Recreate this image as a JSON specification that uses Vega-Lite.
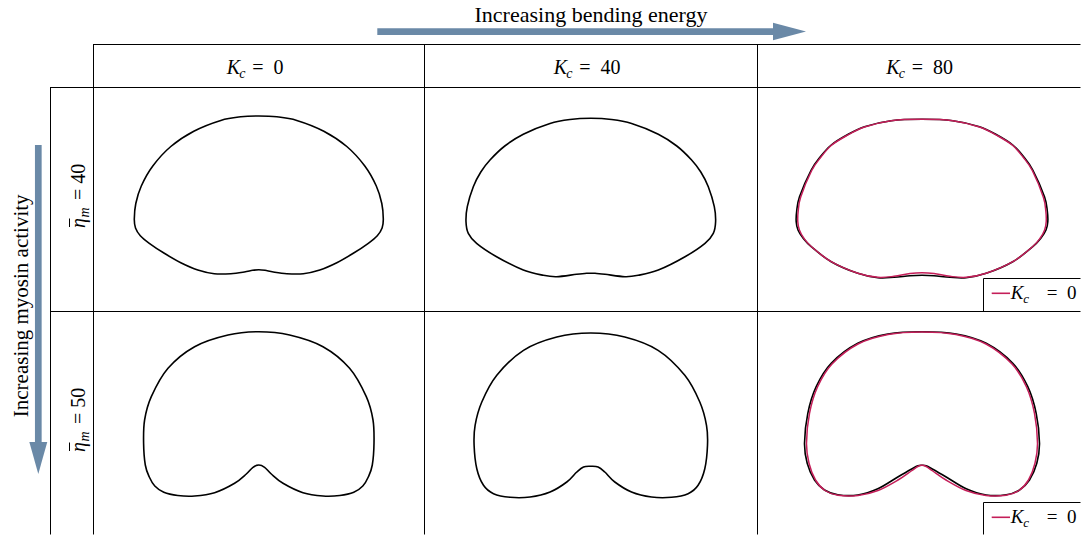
{
"$schema": "https://vega.github.io/schema/vega-lite/v6.json",
"padding": 0,
"background": "white",
"spacing": 0,
"bounds": "flush",
"columns": 4,
"config": {"view": {"stroke": null}, "font": "Liberation Serif", "concat": {"spacing": 0},
  "text": {"font": "Liberation Serif", "align": "left", "baseline": "alphabetic", "color": "black"},
  "rule": {"color": "black", "strokeWidth": 1}},
"data": {"values": [{}]},
"datasets": {"shapes": [
{"eta":40,"kc":0,"curve":0,"i":0,"x":0,"y":83},{"eta":40,"kc":0,"curve":0,"i":1,"x":18,"y":82.2},{"eta":40,"kc":0,"curve":0,"i":2,"x":38,"y":78.6},{"eta":40,"kc":0,"curve":0,"i":3,"x":65,"y":67.8},{"eta":40,"kc":0,"curve":0,"i":4,"x":88,"y":52.5},{"eta":40,"kc":0,"curve":0,"i":5,"x":106,"y":33},{"eta":40,"kc":0,"curve":0,"i":6,"x":117.5,"y":13},{"eta":40,"kc":0,"curve":0,"i":7,"x":123,"y":-4.5},{"eta":40,"kc":0,"curve":0,"i":8,"x":124.5,"y":-20},{"eta":40,"kc":0,"curve":0,"i":9,"x":123.3,"y":-29},{"eta":40,"kc":0,"curve":0,"i":10,"x":118.5,"y":-36.7},{"eta":40,"kc":0,"curve":0,"i":11,"x":109.5,"y":-44.3},{"eta":40,"kc":0,"curve":0,"i":12,"x":94.5,"y":-54.3},{"eta":40,"kc":0,"curve":0,"i":13,"x":78,"y":-63.7},{"eta":40,"kc":0,"curve":0,"i":14,"x":61,"y":-71},{"eta":40,"kc":0,"curve":0,"i":15,"x":44.5,"y":-74.7},{"eta":40,"kc":0,"curve":0,"i":16,"x":28,"y":-74.7},{"eta":40,"kc":0,"curve":0,"i":17,"x":14.5,"y":-73},{"eta":40,"kc":0,"curve":0,"i":18,"x":6.2,"y":-71.3},{"eta":40,"kc":0,"curve":0,"i":19,"x":0,"y":-70.7},{"eta":40,"kc":0,"curve":0,"i":20,"x":-6.2,"y":-71.3},{"eta":40,"kc":0,"curve":0,"i":21,"x":-14.5,"y":-73},{"eta":40,"kc":0,"curve":0,"i":22,"x":-28,"y":-74.7},{"eta":40,"kc":0,"curve":0,"i":23,"x":-44.5,"y":-74.7},{"eta":40,"kc":0,"curve":0,"i":24,"x":-61,"y":-71},{"eta":40,"kc":0,"curve":0,"i":25,"x":-78,"y":-63.7},{"eta":40,"kc":0,"curve":0,"i":26,"x":-94.5,"y":-54.3},{"eta":40,"kc":0,"curve":0,"i":27,"x":-109.5,"y":-44.3},{"eta":40,"kc":0,"curve":0,"i":28,"x":-118.5,"y":-36.7},{"eta":40,"kc":0,"curve":0,"i":29,"x":-123.3,"y":-29},{"eta":40,"kc":0,"curve":0,"i":30,"x":-124.5,"y":-20},{"eta":40,"kc":0,"curve":0,"i":31,"x":-123,"y":-4.5},{"eta":40,"kc":0,"curve":0,"i":32,"x":-117.5,"y":13},{"eta":40,"kc":0,"curve":0,"i":33,"x":-106,"y":33},{"eta":40,"kc":0,"curve":0,"i":34,"x":-88,"y":52.5},{"eta":40,"kc":0,"curve":0,"i":35,"x":-65,"y":67.8},{"eta":40,"kc":0,"curve":0,"i":36,"x":-38,"y":78.6},{"eta":40,"kc":0,"curve":0,"i":37,"x":-18,"y":82.2},

{"eta":40,"kc":40,"curve":40,"i":0,"x":0,"y":80.7},{"eta":40,"kc":40,"curve":40,"i":1,"x":20.8,"y":79.5},{"eta":40,"kc":40,"curve":40,"i":2,"x":40.8,"y":75.5},{"eta":40,"kc":40,"curve":40,"i":3,"x":67.5,"y":64.8},{"eta":40,"kc":40,"curve":40,"i":4,"x":86,"y":53},{"eta":40,"kc":40,"curve":40,"i":5,"x":100.8,"y":39},{"eta":40,"kc":40,"curve":40,"i":6,"x":110,"y":27},{"eta":40,"kc":40,"curve":40,"i":7,"x":117.5,"y":12.3},{"eta":40,"kc":40,"curve":40,"i":8,"x":123.5,"y":-7.7},{"eta":40,"kc":40,"curve":40,"i":9,"x":124.8,"y":-22.7},{"eta":40,"kc":40,"curve":40,"i":10,"x":122.5,"y":-34.3},{"eta":40,"kc":40,"curve":40,"i":11,"x":114.2,"y":-44.3},{"eta":40,"kc":40,"curve":40,"i":12,"x":94.2,"y":-57.7},{"eta":40,"kc":40,"curve":40,"i":13,"x":67.5,"y":-71},{"eta":40,"kc":40,"curve":40,"i":14,"x":47.5,"y":-76.3},{"eta":40,"kc":40,"curve":40,"i":15,"x":34.2,"y":-77.7},{"eta":40,"kc":40,"curve":40,"i":16,"x":14.2,"y":-75.3},{"eta":40,"kc":40,"curve":40,"i":17,"x":4.2,"y":-74.3},{"eta":40,"kc":40,"curve":40,"i":18,"x":0,"y":-74.3},{"eta":40,"kc":40,"curve":40,"i":19,"x":-4.2,"y":-74.3},{"eta":40,"kc":40,"curve":40,"i":20,"x":-14.2,"y":-75.3},{"eta":40,"kc":40,"curve":40,"i":21,"x":-34.2,"y":-77.7},{"eta":40,"kc":40,"curve":40,"i":22,"x":-47.5,"y":-76.3},{"eta":40,"kc":40,"curve":40,"i":23,"x":-67.5,"y":-71},{"eta":40,"kc":40,"curve":40,"i":24,"x":-94.2,"y":-57.7},{"eta":40,"kc":40,"curve":40,"i":25,"x":-114.2,"y":-44.3},{"eta":40,"kc":40,"curve":40,"i":26,"x":-122.5,"y":-34.3},{"eta":40,"kc":40,"curve":40,"i":27,"x":-124.8,"y":-22.7},{"eta":40,"kc":40,"curve":40,"i":28,"x":-123.5,"y":-7.7},{"eta":40,"kc":40,"curve":40,"i":29,"x":-117.5,"y":12.3},{"eta":40,"kc":40,"curve":40,"i":30,"x":-110,"y":27},{"eta":40,"kc":40,"curve":40,"i":31,"x":-100.8,"y":39},{"eta":40,"kc":40,"curve":40,"i":32,"x":-86,"y":53},{"eta":40,"kc":40,"curve":40,"i":33,"x":-67.5,"y":64.8},{"eta":40,"kc":40,"curve":40,"i":34,"x":-40.8,"y":75.5},{"eta":40,"kc":40,"curve":40,"i":35,"x":-20.8,"y":79.5},

{"eta":40,"kc":80,"curve":80,"i":0,"x":0,"y":79.7},{"eta":40,"kc":80,"curve":80,"i":1,"x":30.8,"y":78.3},{"eta":40,"kc":80,"curve":80,"i":2,"x":57.5,"y":72.3},{"eta":40,"kc":80,"curve":80,"i":3,"x":76,"y":63.5},{"eta":40,"kc":80,"curve":80,"i":4,"x":90.8,"y":54},{"eta":40,"kc":80,"curve":80,"i":5,"x":101.5,"y":42.5},{"eta":40,"kc":80,"curve":80,"i":6,"x":110.8,"y":29},{"eta":40,"kc":80,"curve":80,"i":7,"x":122.5,"y":2.3},{"eta":40,"kc":80,"curve":80,"i":8,"x":125.3,"y":-12},{"eta":40,"kc":80,"curve":80,"i":9,"x":125.8,"y":-22.7},{"eta":40,"kc":80,"curve":80,"i":10,"x":124,"y":-31},{"eta":40,"kc":80,"curve":80,"i":11,"x":119,"y":-39},{"eta":40,"kc":80,"curve":80,"i":12,"x":110.8,"y":-47.7},{"eta":40,"kc":80,"curve":80,"i":13,"x":90.8,"y":-62.7},{"eta":40,"kc":80,"curve":80,"i":14,"x":64.2,"y":-74.3},{"eta":40,"kc":80,"curve":80,"i":15,"x":44.2,"y":-78.7},{"eta":40,"kc":80,"curve":80,"i":16,"x":28,"y":-78.3},{"eta":40,"kc":80,"curve":80,"i":17,"x":12,"y":-76.7},{"eta":40,"kc":80,"curve":80,"i":18,"x":0,"y":-76.3},{"eta":40,"kc":80,"curve":80,"i":19,"x":-12,"y":-76.7},{"eta":40,"kc":80,"curve":80,"i":20,"x":-28,"y":-78.3},{"eta":40,"kc":80,"curve":80,"i":21,"x":-44.2,"y":-78.7},{"eta":40,"kc":80,"curve":80,"i":22,"x":-64.2,"y":-74.3},{"eta":40,"kc":80,"curve":80,"i":23,"x":-90.8,"y":-62.7},{"eta":40,"kc":80,"curve":80,"i":24,"x":-110.8,"y":-47.7},{"eta":40,"kc":80,"curve":80,"i":25,"x":-119,"y":-39},{"eta":40,"kc":80,"curve":80,"i":26,"x":-124,"y":-31},{"eta":40,"kc":80,"curve":80,"i":27,"x":-125.8,"y":-22.7},{"eta":40,"kc":80,"curve":80,"i":28,"x":-125.3,"y":-12},{"eta":40,"kc":80,"curve":80,"i":29,"x":-122.5,"y":2.3},{"eta":40,"kc":80,"curve":80,"i":30,"x":-110.8,"y":29},{"eta":40,"kc":80,"curve":80,"i":31,"x":-101.5,"y":42.5},{"eta":40,"kc":80,"curve":80,"i":32,"x":-90.8,"y":54},{"eta":40,"kc":80,"curve":80,"i":33,"x":-76,"y":63.5},{"eta":40,"kc":80,"curve":80,"i":34,"x":-57.5,"y":72.3},{"eta":40,"kc":80,"curve":80,"i":35,"x":-30.8,"y":78.3},

{"eta":40,"kc":80,"curve":0,"i":0,"x":0,"y":79.7},{"eta":40,"kc":80,"curve":0,"i":1,"x":30.8,"y":78.3},{"eta":40,"kc":80,"curve":0,"i":2,"x":57.5,"y":72},{"eta":40,"kc":80,"curve":0,"i":3,"x":76,"y":63},{"eta":40,"kc":80,"curve":0,"i":4,"x":90.8,"y":53.5},{"eta":40,"kc":80,"curve":0,"i":5,"x":101,"y":42},{"eta":40,"kc":80,"curve":0,"i":6,"x":110.3,"y":28.5},{"eta":40,"kc":80,"curve":0,"i":7,"x":121.3,"y":2},{"eta":40,"kc":80,"curve":0,"i":8,"x":123.8,"y":-12},{"eta":40,"kc":80,"curve":0,"i":9,"x":124.2,"y":-22.7},{"eta":40,"kc":80,"curve":0,"i":10,"x":122.6,"y":-31},{"eta":40,"kc":80,"curve":0,"i":11,"x":118.3,"y":-39},{"eta":40,"kc":80,"curve":0,"i":12,"x":110.5,"y":-47.7},{"eta":40,"kc":80,"curve":0,"i":13,"x":90.8,"y":-62.7},{"eta":40,"kc":80,"curve":0,"i":14,"x":64.2,"y":-74.3},{"eta":40,"kc":80,"curve":0,"i":15,"x":44.2,"y":-78.3},{"eta":40,"kc":80,"curve":0,"i":16,"x":28,"y":-77.3},{"eta":40,"kc":80,"curve":0,"i":17,"x":12,"y":-74.5},{"eta":40,"kc":80,"curve":0,"i":18,"x":0,"y":-73.7},{"eta":40,"kc":80,"curve":0,"i":19,"x":-12,"y":-74.5},{"eta":40,"kc":80,"curve":0,"i":20,"x":-28,"y":-77.3},{"eta":40,"kc":80,"curve":0,"i":21,"x":-44.2,"y":-78.3},{"eta":40,"kc":80,"curve":0,"i":22,"x":-64.2,"y":-74.3},{"eta":40,"kc":80,"curve":0,"i":23,"x":-90.8,"y":-62.7},{"eta":40,"kc":80,"curve":0,"i":24,"x":-110.5,"y":-47.7},{"eta":40,"kc":80,"curve":0,"i":25,"x":-118.3,"y":-39},{"eta":40,"kc":80,"curve":0,"i":26,"x":-122.6,"y":-31},{"eta":40,"kc":80,"curve":0,"i":27,"x":-124.2,"y":-22.7},{"eta":40,"kc":80,"curve":0,"i":28,"x":-123.8,"y":-12},{"eta":40,"kc":80,"curve":0,"i":29,"x":-121.3,"y":2},{"eta":40,"kc":80,"curve":0,"i":30,"x":-110.3,"y":28.5},{"eta":40,"kc":80,"curve":0,"i":31,"x":-101,"y":42},{"eta":40,"kc":80,"curve":0,"i":32,"x":-90.8,"y":53.5},{"eta":40,"kc":80,"curve":0,"i":33,"x":-76,"y":63},{"eta":40,"kc":80,"curve":0,"i":34,"x":-57.5,"y":72},{"eta":40,"kc":80,"curve":0,"i":35,"x":-30.8,"y":78.3},

{"eta":50,"kc":0,"curve":0,"i":0,"x":0,"y":91.3},{"eta":50,"kc":0,"curve":0,"i":1,"x":30.8,"y":88},{"eta":50,"kc":0,"curve":0,"i":2,"x":64.2,"y":76.3},{"eta":50,"kc":0,"curve":0,"i":3,"x":90.8,"y":54.7},{"eta":50,"kc":0,"curve":0,"i":4,"x":107.5,"y":26.3},{"eta":50,"kc":0,"curve":0,"i":5,"x":114.2,"y":3},{"eta":50,"kc":0,"curve":0,"i":6,"x":115.2,"y":-20.3},{"eta":50,"kc":0,"curve":0,"i":7,"x":113.5,"y":-42},{"eta":50,"kc":0,"curve":0,"i":8,"x":109.5,"y":-54},{"eta":50,"kc":0,"curve":0,"i":9,"x":104,"y":-63},{"eta":50,"kc":0,"curve":0,"i":10,"x":95,"y":-69.3},{"eta":50,"kc":0,"curve":0,"i":11,"x":81,"y":-72.5},{"eta":50,"kc":0,"curve":0,"i":12,"x":64.2,"y":-73},{"eta":50,"kc":0,"curve":0,"i":13,"x":44.2,"y":-69.7},{"eta":50,"kc":0,"curve":0,"i":14,"x":24.2,"y":-60.3},{"eta":50,"kc":0,"curve":0,"i":15,"x":12.5,"y":-51},{"eta":50,"kc":0,"curve":0,"i":16,"x":5.8,"y":-44.3},{"eta":50,"kc":0,"curve":0,"i":17,"x":0,"y":-42},{"eta":50,"kc":0,"curve":0,"i":18,"x":-5.8,"y":-44.3},{"eta":50,"kc":0,"curve":0,"i":19,"x":-12.5,"y":-51},{"eta":50,"kc":0,"curve":0,"i":20,"x":-24.2,"y":-60.3},{"eta":50,"kc":0,"curve":0,"i":21,"x":-44.2,"y":-69.7},{"eta":50,"kc":0,"curve":0,"i":22,"x":-64.2,"y":-73},{"eta":50,"kc":0,"curve":0,"i":23,"x":-81,"y":-72.5},{"eta":50,"kc":0,"curve":0,"i":24,"x":-95,"y":-69.3},{"eta":50,"kc":0,"curve":0,"i":25,"x":-104,"y":-63},{"eta":50,"kc":0,"curve":0,"i":26,"x":-109.5,"y":-54},{"eta":50,"kc":0,"curve":0,"i":27,"x":-113.5,"y":-42},{"eta":50,"kc":0,"curve":0,"i":28,"x":-115.2,"y":-20.3},{"eta":50,"kc":0,"curve":0,"i":29,"x":-114.2,"y":3},{"eta":50,"kc":0,"curve":0,"i":30,"x":-107.5,"y":26.3},{"eta":50,"kc":0,"curve":0,"i":31,"x":-90.8,"y":54.7},{"eta":50,"kc":0,"curve":0,"i":32,"x":-64.2,"y":76.3},{"eta":50,"kc":0,"curve":0,"i":33,"x":-30.8,"y":88},

{"eta":50,"kc":40,"curve":40,"i":0,"x":0,"y":90},{"eta":50,"kc":40,"curve":40,"i":1,"x":34,"y":86},{"eta":50,"kc":40,"curve":40,"i":2,"x":67.3,"y":72.7},{"eta":50,"kc":40,"curve":40,"i":3,"x":94,"y":47.7},{"eta":50,"kc":40,"curve":40,"i":4,"x":109,"y":21},{"eta":50,"kc":40,"curve":40,"i":5,"x":115.7,"y":-2.3},{"eta":50,"kc":40,"curve":40,"i":6,"x":116.7,"y":-22.3},{"eta":50,"kc":40,"curve":40,"i":7,"x":114,"y":-45.7},{"eta":50,"kc":40,"curve":40,"i":8,"x":107.3,"y":-62.3},{"eta":50,"kc":40,"curve":40,"i":9,"x":97.3,"y":-70.7},{"eta":50,"kc":40,"curve":40,"i":10,"x":80.7,"y":-74.3},{"eta":50,"kc":40,"curve":40,"i":11,"x":60.7,"y":-74},{"eta":50,"kc":40,"curve":40,"i":12,"x":40.7,"y":-69},{"eta":50,"kc":40,"curve":40,"i":13,"x":24,"y":-59},{"eta":50,"kc":40,"curve":40,"i":14,"x":14,"y":-49},{"eta":50,"kc":40,"curve":40,"i":15,"x":7.3,"y":-44},{"eta":50,"kc":40,"curve":40,"i":16,"x":0,"y":-43.3},{"eta":50,"kc":40,"curve":40,"i":17,"x":-7.3,"y":-44},{"eta":50,"kc":40,"curve":40,"i":18,"x":-14,"y":-49},{"eta":50,"kc":40,"curve":40,"i":19,"x":-24,"y":-59},{"eta":50,"kc":40,"curve":40,"i":20,"x":-40.7,"y":-69},{"eta":50,"kc":40,"curve":40,"i":21,"x":-60.7,"y":-74},{"eta":50,"kc":40,"curve":40,"i":22,"x":-80.7,"y":-74.3},{"eta":50,"kc":40,"curve":40,"i":23,"x":-97.3,"y":-70.7},{"eta":50,"kc":40,"curve":40,"i":24,"x":-107.3,"y":-62.3},{"eta":50,"kc":40,"curve":40,"i":25,"x":-114,"y":-45.7},{"eta":50,"kc":40,"curve":40,"i":26,"x":-116.7,"y":-22.3},{"eta":50,"kc":40,"curve":40,"i":27,"x":-115.7,"y":-2.3},{"eta":50,"kc":40,"curve":40,"i":28,"x":-109,"y":21},{"eta":50,"kc":40,"curve":40,"i":29,"x":-94,"y":47.7},{"eta":50,"kc":40,"curve":40,"i":30,"x":-67.3,"y":72.7},{"eta":50,"kc":40,"curve":40,"i":31,"x":-34,"y":86},

{"eta":50,"kc":80,"curve":80,"i":0,"x":0,"y":91.3},{"eta":50,"kc":80,"curve":80,"i":1,"x":34.2,"y":89},{"eta":50,"kc":80,"curve":80,"i":2,"x":64.2,"y":79.7},{"eta":50,"kc":80,"curve":80,"i":3,"x":90.8,"y":59.7},{"eta":50,"kc":80,"curve":80,"i":4,"x":105.8,"y":36.3},{"eta":50,"kc":80,"curve":80,"i":5,"x":114.2,"y":9.7},{"eta":50,"kc":80,"curve":80,"i":6,"x":117.5,"y":-20.3},{"eta":50,"kc":80,"curve":80,"i":7,"x":114.8,"y":-40.3},{"eta":50,"kc":80,"curve":80,"i":8,"x":107.5,"y":-57},{"eta":50,"kc":80,"curve":80,"i":9,"x":97.5,"y":-67},{"eta":50,"kc":80,"curve":80,"i":10,"x":84.2,"y":-71.8},{"eta":50,"kc":80,"curve":80,"i":11,"x":64.2,"y":-72},{"eta":50,"kc":80,"curve":80,"i":12,"x":44.2,"y":-65.8},{"eta":50,"kc":80,"curve":80,"i":13,"x":24.2,"y":-54},{"eta":50,"kc":80,"curve":80,"i":14,"x":10.8,"y":-46.3},{"eta":50,"kc":80,"curve":80,"i":15,"x":4.2,"y":-42.8},{"eta":50,"kc":80,"curve":80,"i":16,"x":0,"y":-42.3},{"eta":50,"kc":80,"curve":80,"i":17,"x":-4.2,"y":-42.8},{"eta":50,"kc":80,"curve":80,"i":18,"x":-10.8,"y":-46.3},{"eta":50,"kc":80,"curve":80,"i":19,"x":-24.2,"y":-54},{"eta":50,"kc":80,"curve":80,"i":20,"x":-44.2,"y":-65.8},{"eta":50,"kc":80,"curve":80,"i":21,"x":-64.2,"y":-72},{"eta":50,"kc":80,"curve":80,"i":22,"x":-84.2,"y":-71.8},{"eta":50,"kc":80,"curve":80,"i":23,"x":-97.5,"y":-67},{"eta":50,"kc":80,"curve":80,"i":24,"x":-107.5,"y":-57},{"eta":50,"kc":80,"curve":80,"i":25,"x":-114.8,"y":-40.3},{"eta":50,"kc":80,"curve":80,"i":26,"x":-117.5,"y":-20.3},{"eta":50,"kc":80,"curve":80,"i":27,"x":-114.2,"y":9.7},{"eta":50,"kc":80,"curve":80,"i":28,"x":-105.8,"y":36.3},{"eta":50,"kc":80,"curve":80,"i":29,"x":-90.8,"y":59.7},{"eta":50,"kc":80,"curve":80,"i":30,"x":-64.2,"y":79.7},{"eta":50,"kc":80,"curve":80,"i":31,"x":-34.2,"y":89},

{"eta":50,"kc":80,"curve":0,"i":0,"x":0,"y":91},{"eta":50,"kc":80,"curve":0,"i":1,"x":34,"y":88.5},{"eta":50,"kc":80,"curve":0,"i":2,"x":64,"y":79},{"eta":50,"kc":80,"curve":0,"i":3,"x":90,"y":59},{"eta":50,"kc":80,"curve":0,"i":4,"x":104.5,"y":36},{"eta":50,"kc":80,"curve":0,"i":5,"x":112.5,"y":9.7},{"eta":50,"kc":80,"curve":0,"i":6,"x":115.5,"y":-20.3},{"eta":50,"kc":80,"curve":0,"i":7,"x":113,"y":-40.3},{"eta":50,"kc":80,"curve":0,"i":8,"x":106.5,"y":-57},{"eta":50,"kc":80,"curve":0,"i":9,"x":97,"y":-67.5},{"eta":50,"kc":80,"curve":0,"i":10,"x":84,"y":-72.3},{"eta":50,"kc":80,"curve":0,"i":11,"x":64,"y":-72.5},{"eta":50,"kc":80,"curve":0,"i":12,"x":44,"y":-67.5},{"eta":50,"kc":80,"curve":0,"i":13,"x":24,"y":-57},{"eta":50,"kc":80,"curve":0,"i":14,"x":10.8,"y":-48},{"eta":50,"kc":80,"curve":0,"i":15,"x":4.2,"y":-43.5},{"eta":50,"kc":80,"curve":0,"i":16,"x":0,"y":-42.3},{"eta":50,"kc":80,"curve":0,"i":17,"x":-4.2,"y":-43.5},{"eta":50,"kc":80,"curve":0,"i":18,"x":-10.8,"y":-48},{"eta":50,"kc":80,"curve":0,"i":19,"x":-24,"y":-57},{"eta":50,"kc":80,"curve":0,"i":20,"x":-44,"y":-67.5},{"eta":50,"kc":80,"curve":0,"i":21,"x":-64,"y":-72.5},{"eta":50,"kc":80,"curve":0,"i":22,"x":-84,"y":-72.3},{"eta":50,"kc":80,"curve":0,"i":23,"x":-97,"y":-67.5},{"eta":50,"kc":80,"curve":0,"i":24,"x":-106.5,"y":-57},{"eta":50,"kc":80,"curve":0,"i":25,"x":-113,"y":-40.3},{"eta":50,"kc":80,"curve":0,"i":26,"x":-115.5,"y":-20.3},{"eta":50,"kc":80,"curve":0,"i":27,"x":-112.5,"y":9.7},{"eta":50,"kc":80,"curve":0,"i":28,"x":-104.5,"y":36},{"eta":50,"kc":80,"curve":0,"i":29,"x":-90,"y":59},{"eta":50,"kc":80,"curve":0,"i":30,"x":-64,"y":79},{"eta":50,"kc":80,"curve":0,"i":31,"x":-34,"y":88.5}
]},
"concat": [
{"width": 93, "height": 87, "mark": {"type": "text", "text": "", "baseline": "middle", "fontSize": 1}, "encoding": {"x": {"datum": 46, "type": "quantitative", "scale": {"domain": [0,93], "nice": false, "zero": false}, "axis": null}, "y": {"datum": 44, "type": "quantitative", "scale": {"domain": [0,87], "nice": false, "zero": false, "reverse": true}, "axis": null}}},
{"width": 331, "height": 87, "layer": [
 {"mark": "rule", "encoding": {"x": {"datum": 0, "type": "quantitative", "scale": {"domain": [0,331], "nice": false, "zero": false}, "axis": null}, "x2": {"datum": 331}, "y": {"datum": 44.5, "type": "quantitative", "scale": {"domain": [0,87], "nice": false, "zero": false, "reverse": true}, "axis": null}}},
 {"mark": "rule", "encoding": {"x": {"datum": 0.5, "type": "quantitative", "scale": {"domain": [0,331], "nice": false, "zero": false}, "axis": null}, "y": {"datum": 44, "type": "quantitative", "scale": {"domain": [0,87], "nice": false, "zero": false, "reverse": true}, "axis": null}, "y2": {"datum": 87}}},
 {"mark": {"type": "text", "text": "K", "fontSize": 20, "fontStyle": "italic"}, "encoding": {"x": {"datum": 133.7, "type": "quantitative", "scale": {"domain": [0,331], "nice": false, "zero": false}, "axis": null}, "y": {"datum": 74, "type": "quantitative", "scale": {"domain": [0,87], "nice": false, "zero": false, "reverse": true}, "axis": null}}},
 {"mark": {"type": "text", "text": "c", "fontSize": 14, "fontStyle": "italic"}, "encoding": {"x": {"datum": 146.3, "type": "quantitative", "scale": {"domain": [0,331], "nice": false, "zero": false}, "axis": null}, "y": {"datum": 77.5, "type": "quantitative", "scale": {"domain": [0,87], "nice": false, "zero": false, "reverse": true}, "axis": null}}},
 {"mark": {"type": "text", "text": "=\u00a0\u00a00", "fontSize": 20}, "encoding": {"x": {"datum": 159.3, "type": "quantitative", "scale": {"domain": [0,331], "nice": false, "zero": false}, "axis": null}, "y": {"datum": 74, "type": "quantitative", "scale": {"domain": [0,87], "nice": false, "zero": false, "reverse": true}, "axis": null}}}
]},
{"width": 333, "height": 87, "layer": [
 {"mark": "rule", "encoding": {"x": {"datum": 0, "type": "quantitative", "scale": {"domain": [0,333], "nice": false, "zero": false}, "axis": null}, "x2": {"datum": 333}, "y": {"datum": 44.5, "type": "quantitative", "scale": {"domain": [0,87], "nice": false, "zero": false, "reverse": true}, "axis": null}}},
 {"mark": "rule", "encoding": {"x": {"datum": 0.5, "type": "quantitative", "scale": {"domain": [0,333], "nice": false, "zero": false}, "axis": null}, "y": {"datum": 44, "type": "quantitative", "scale": {"domain": [0,87], "nice": false, "zero": false, "reverse": true}, "axis": null}, "y2": {"datum": 87}}},
 {"mark": {"type": "text", "text": "K", "fontSize": 20, "fontStyle": "italic"}, "encoding": {"x": {"datum": 129.7, "type": "quantitative", "scale": {"domain": [0,333], "nice": false, "zero": false}, "axis": null}, "y": {"datum": 74, "type": "quantitative", "scale": {"domain": [0,87], "nice": false, "zero": false, "reverse": true}, "axis": null}}},
 {"mark": {"type": "text", "text": "c", "fontSize": 14, "fontStyle": "italic"}, "encoding": {"x": {"datum": 142.3, "type": "quantitative", "scale": {"domain": [0,333], "nice": false, "zero": false}, "axis": null}, "y": {"datum": 77.5, "type": "quantitative", "scale": {"domain": [0,87], "nice": false, "zero": false, "reverse": true}, "axis": null}}},
 {"mark": {"type": "text", "text": "=\u00a0\u00a040", "fontSize": 20}, "encoding": {"x": {"datum": 155.3, "type": "quantitative", "scale": {"domain": [0,333], "nice": false, "zero": false}, "axis": null}, "y": {"datum": 74, "type": "quantitative", "scale": {"domain": [0,87], "nice": false, "zero": false, "reverse": true}, "axis": null}}},
 {"mark": {"type": "rule", "color": "#6a89a7", "strokeWidth": 6.7}, "encoding": {"x": {"datum": -46.7, "type": "quantitative", "scale": {"domain": [0,333], "nice": false, "zero": false}, "axis": null}, "x2": {"datum": 350}, "y": {"datum": 31.7, "type": "quantitative", "scale": {"domain": [0,87], "nice": false, "zero": false, "reverse": true}, "axis": null}}},
 {"mark": {"type": "point", "shape": "M-1,-0.53L1,0L-1,0.53Z", "filled": true, "color": "#6a89a7", "opacity": 1, "size": 1089}, "encoding": {"x": {"datum": 365.5, "type": "quantitative", "scale": {"domain": [0,333], "nice": false, "zero": false}, "axis": null}, "y": {"datum": 31.5, "type": "quantitative", "scale": {"domain": [0,87], "nice": false, "zero": false, "reverse": true}, "axis": null}}},
 {"mark": {"type": "text", "text": "Increasing bending energy", "align": "center", "fontSize": 22}, "encoding": {"x": {"datum": 167, "type": "quantitative", "scale": {"domain": [0,333], "nice": false, "zero": false}, "axis": null}, "y": {"datum": 21.7, "type": "quantitative", "scale": {"domain": [0,87], "nice": false, "zero": false, "reverse": true}, "axis": null}}}
]},
{"width": 324, "height": 87, "layer": [
 {"mark": "rule", "encoding": {"x": {"datum": 0, "type": "quantitative", "scale": {"domain": [0,324], "nice": false, "zero": false}, "axis": null}, "x2": {"datum": 323.5}, "y": {"datum": 44.5, "type": "quantitative", "scale": {"domain": [0,87], "nice": false, "zero": false, "reverse": true}, "axis": null}}},
 {"mark": "rule", "encoding": {"x": {"datum": 0.5, "type": "quantitative", "scale": {"domain": [0,324], "nice": false, "zero": false}, "axis": null}, "y": {"datum": 44, "type": "quantitative", "scale": {"domain": [0,87], "nice": false, "zero": false, "reverse": true}, "axis": null}, "y2": {"datum": 87}}},
 {"mark": {"type": "text", "text": "K", "fontSize": 20, "fontStyle": "italic"}, "encoding": {"x": {"datum": 129.2, "type": "quantitative", "scale": {"domain": [0,324], "nice": false, "zero": false}, "axis": null}, "y": {"datum": 74, "type": "quantitative", "scale": {"domain": [0,87], "nice": false, "zero": false, "reverse": true}, "axis": null}}},
 {"mark": {"type": "text", "text": "c", "fontSize": 14, "fontStyle": "italic"}, "encoding": {"x": {"datum": 141.8, "type": "quantitative", "scale": {"domain": [0,324], "nice": false, "zero": false}, "axis": null}, "y": {"datum": 77.5, "type": "quantitative", "scale": {"domain": [0,87], "nice": false, "zero": false, "reverse": true}, "axis": null}}},
 {"mark": {"type": "text", "text": "=\u00a0\u00a080", "fontSize": 20}, "encoding": {"x": {"datum": 154.8, "type": "quantitative", "scale": {"domain": [0,324], "nice": false, "zero": false}, "axis": null}, "y": {"datum": 74, "type": "quantitative", "scale": {"domain": [0,87], "nice": false, "zero": false, "reverse": true}, "axis": null}}}
]},
{"width": 93, "height": 224, "layer": [
 {"mark": "rule", "encoding": {"x": {"datum": 50.5, "type": "quantitative", "scale": {"domain": [0,93], "nice": false, "zero": false}, "axis": null}, "y": {"datum": 0, "type": "quantitative", "scale": {"domain": [0,224], "nice": false, "zero": false, "reverse": true}, "axis": null}, "y2": {"datum": 224}}},
 {"mark": "rule", "encoding": {"x": {"datum": 50, "type": "quantitative", "scale": {"domain": [0,93], "nice": false, "zero": false}, "axis": null}, "x2": {"datum": 93}, "y": {"datum": 0.5, "type": "quantitative", "scale": {"domain": [0,224], "nice": false, "zero": false, "reverse": true}, "axis": null}}},
 {"mark": {"type": "rule", "color": "#6a89a7", "strokeWidth": 6.7}, "encoding": {"x": {"datum": 38.3, "type": "quantitative", "scale": {"domain": [0,93], "nice": false, "zero": false}, "axis": null}, "y": {"datum": 58, "type": "quantitative", "scale": {"domain": [0,224], "nice": false, "zero": false, "reverse": true}, "axis": null}, "y2": {"datum": 356}}},
 {"mark": {"type": "point", "shape": "M-0.56,-1L0,1L0.56,-1Z", "filled": true, "color": "#6a89a7", "opacity": 1, "size": 1024}, "encoding": {"x": {"datum": 38.3, "type": "quantitative", "scale": {"domain": [0,93], "nice": false, "zero": false}, "axis": null}, "y": {"datum": 371, "type": "quantitative", "scale": {"domain": [0,224], "nice": false, "zero": false, "reverse": true}, "axis": null}}},
 {"mark": {"type": "text", "text": "Increasing myosin activity", "angle": 270, "align": "center", "fontSize": 21}, "encoding": {"x": {"datum": 27.5, "type": "quantitative", "scale": {"domain": [0,93], "nice": false, "zero": false}, "axis": null}, "y": {"datum": 218.8, "type": "quantitative", "scale": {"domain": [0,224], "nice": false, "zero": false, "reverse": true}, "axis": null}}},
 {"mark": {"type": "text", "text": "\u03b7", "angle": 270, "fontSize": 20, "fontStyle": "italic"}, "encoding": {"x": {"datum": 85, "type": "quantitative", "scale": {"domain": [0,93], "nice": false, "zero": false}, "axis": null}, "y": {"datum": 141, "type": "quantitative", "scale": {"domain": [0,224], "nice": false, "zero": false, "reverse": true}, "axis": null}}},
 {"mark": "rule", "encoding": {"x": {"datum": 69.5, "type": "quantitative", "scale": {"domain": [0,93], "nice": false, "zero": false}, "axis": null}, "y": {"datum": 140, "type": "quantitative", "scale": {"domain": [0,224], "nice": false, "zero": false, "reverse": true}, "axis": null}, "y2": {"datum": 131.5}}},
 {"mark": {"type": "text", "text": "m", "angle": 270, "fontSize": 14, "fontStyle": "italic"}, "encoding": {"x": {"datum": 88.5, "type": "quantitative", "scale": {"domain": [0,93], "nice": false, "zero": false}, "axis": null}, "y": {"datum": 130.5, "type": "quantitative", "scale": {"domain": [0,224], "nice": false, "zero": false, "reverse": true}, "axis": null}}},
 {"mark": {"type": "text", "text": "= 40", "angle": 270, "fontSize": 20}, "encoding": {"x": {"datum": 85, "type": "quantitative", "scale": {"domain": [0,93], "nice": false, "zero": false}, "axis": null}, "y": {"datum": 113, "type": "quantitative", "scale": {"domain": [0,224], "nice": false, "zero": false, "reverse": true}, "axis": null}}}
]},
{"width": 331, "height": 224, "layer": [
 {"data": {"name": "shapes"}, "transform": [{"filter": "datum.eta == 40 && datum.kc == 0 && datum.curve == 0"}], "mark": {"type": "line", "interpolate": "cardinal-closed", "color": "black", "strokeWidth": 1.6}, "encoding": {"x": {"field": "x", "type": "quantitative", "scale": {"domain": [-165.8,165.2], "nice": false, "zero": false}, "axis": null}, "y": {"field": "y", "type": "quantitative", "scale": {"domain": [-112,112], "nice": false, "zero": false}, "axis": null}, "order": {"field": "i", "type": "quantitative"}}},
 {"mark": "rule", "encoding": {"x": {"datum": -165.8, "type": "quantitative", "scale": {"domain": [-165.8,165.2], "nice": false, "zero": false}, "axis": null}, "x2": {"datum": 165.2}, "y": {"datum": 111.5, "type": "quantitative", "scale": {"domain": [-112,112], "nice": false, "zero": false}, "axis": null}}},
 {"mark": "rule", "encoding": {"x": {"datum": -165.3, "type": "quantitative", "scale": {"domain": [-165.8,165.2], "nice": false, "zero": false}, "axis": null}, "y": {"datum": 112, "type": "quantitative", "scale": {"domain": [-112,112], "nice": false, "zero": false}, "axis": null}, "y2": {"datum": -112}}}
]},
{"width": 333, "height": 224, "layer": [
 {"data": {"name": "shapes"}, "transform": [{"filter": "datum.eta == 40 && datum.kc == 40 && datum.curve == 40"}], "mark": {"type": "line", "interpolate": "cardinal-closed", "color": "black", "strokeWidth": 1.6}, "encoding": {"x": {"field": "x", "type": "quantitative", "scale": {"domain": [-166.8,166.2], "nice": false, "zero": false}, "axis": null}, "y": {"field": "y", "type": "quantitative", "scale": {"domain": [-112,112], "nice": false, "zero": false}, "axis": null}, "order": {"field": "i", "type": "quantitative"}}},
 {"mark": "rule", "encoding": {"x": {"datum": -166.8, "type": "quantitative", "scale": {"domain": [-166.8,166.2], "nice": false, "zero": false}, "axis": null}, "x2": {"datum": 166.2}, "y": {"datum": 111.5, "type": "quantitative", "scale": {"domain": [-112,112], "nice": false, "zero": false}, "axis": null}}},
 {"mark": "rule", "encoding": {"x": {"datum": -166.3, "type": "quantitative", "scale": {"domain": [-166.8,166.2], "nice": false, "zero": false}, "axis": null}, "y": {"datum": 112, "type": "quantitative", "scale": {"domain": [-112,112], "nice": false, "zero": false}, "axis": null}, "y2": {"datum": -112}}}
]},
{"width": 324, "height": 224, "layer": [
 {"data": {"name": "shapes"}, "transform": [{"filter": "datum.eta == 40 && datum.kc == 80 && datum.curve == 80"}], "mark": {"type": "line", "interpolate": "cardinal-closed", "color": "black", "strokeWidth": 1.6}, "encoding": {"x": {"field": "x", "type": "quantitative", "scale": {"domain": [-165,159], "nice": false, "zero": false}, "axis": null}, "y": {"field": "y", "type": "quantitative", "scale": {"domain": [-112,112], "nice": false, "zero": false}, "axis": null}, "order": {"field": "i", "type": "quantitative"}}},
 {"data": {"name": "shapes"}, "transform": [{"filter": "datum.eta == 40 && datum.kc == 80 && datum.curve == 0"}], "mark": {"type": "line", "interpolate": "cardinal-closed", "color": "#c41e59", "strokeWidth": 1.5}, "encoding": {"x": {"field": "x", "type": "quantitative", "scale": {"domain": [-165,159], "nice": false, "zero": false}, "axis": null}, "y": {"field": "y", "type": "quantitative", "scale": {"domain": [-112,112], "nice": false, "zero": false}, "axis": null}, "order": {"field": "i", "type": "quantitative"}}},
 {"mark": "rule", "encoding": {"x": {"datum": -165, "type": "quantitative", "scale": {"domain": [-165,159], "nice": false, "zero": false}, "axis": null}, "x2": {"datum": 158.5}, "y": {"datum": 111.5, "type": "quantitative", "scale": {"domain": [-112,112], "nice": false, "zero": false}, "axis": null}}},
 {"mark": "rule", "encoding": {"x": {"datum": -164.5, "type": "quantitative", "scale": {"domain": [-165,159], "nice": false, "zero": false}, "axis": null}, "y": {"datum": 112, "type": "quantitative", "scale": {"domain": [-112,112], "nice": false, "zero": false}, "axis": null}, "y2": {"datum": -112}}},
 {"mark": "rule", "encoding": {"x": {"datum": 61.5, "type": "quantitative", "scale": {"domain": [-165,159], "nice": false, "zero": false}, "axis": null}, "x2": {"datum": 158.5}, "y": {"datum": -79.5, "type": "quantitative", "scale": {"domain": [-112,112], "nice": false, "zero": false}, "axis": null}}},
 {"mark": "rule", "encoding": {"x": {"datum": 61.5, "type": "quantitative", "scale": {"domain": [-165,159], "nice": false, "zero": false}, "axis": null}, "y": {"datum": -79.5, "type": "quantitative", "scale": {"domain": [-112,112], "nice": false, "zero": false}, "axis": null}, "y2": {"datum": -112}}},
 {"mark": {"type": "rule", "color": "#c41e59", "strokeWidth": 1.6}, "encoding": {"x": {"datum": 69.7, "type": "quantitative", "scale": {"domain": [-165,159], "nice": false, "zero": false}, "axis": null}, "x2": {"datum": 88}, "y": {"datum": -94.3, "type": "quantitative", "scale": {"domain": [-112,112], "nice": false, "zero": false}, "axis": null}}},
 {"mark": {"type": "text", "text": "K", "fontSize": 19, "fontStyle": "italic"}, "encoding": {"x": {"datum": 88.7, "type": "quantitative", "scale": {"domain": [-165,159], "nice": false, "zero": false}, "axis": null}, "y": {"datum": -100.3, "type": "quantitative", "scale": {"domain": [-112,112], "nice": false, "zero": false}, "axis": null}}},
 {"mark": {"type": "text", "text": "c", "fontSize": 13, "fontStyle": "italic"}, "encoding": {"x": {"datum": 101.3, "type": "quantitative", "scale": {"domain": [-165,159], "nice": false, "zero": false}, "axis": null}, "y": {"datum": -103.8, "type": "quantitative", "scale": {"domain": [-112,112], "nice": false, "zero": false}, "axis": null}}},
 {"mark": {"type": "text", "text": "=\u00a0\u00a00", "fontSize": 19}, "encoding": {"x": {"datum": 124.7, "type": "quantitative", "scale": {"domain": [-165,159], "nice": false, "zero": false}, "axis": null}, "y": {"datum": -100.3, "type": "quantitative", "scale": {"domain": [-112,112], "nice": false, "zero": false}, "axis": null}}}
]},
{"width": 93, "height": 224, "layer": [
 {"mark": "rule", "encoding": {"x": {"datum": 50.5, "type": "quantitative", "scale": {"domain": [0,93], "nice": false, "zero": false}, "axis": null}, "y": {"datum": 0, "type": "quantitative", "scale": {"domain": [0,224], "nice": false, "zero": false, "reverse": true}, "axis": null}, "y2": {"datum": 223.5}}},
 {"mark": "rule", "encoding": {"x": {"datum": 50, "type": "quantitative", "scale": {"domain": [0,93], "nice": false, "zero": false}, "axis": null}, "x2": {"datum": 93}, "y": {"datum": 0.5, "type": "quantitative", "scale": {"domain": [0,224], "nice": false, "zero": false, "reverse": true}, "axis": null}}},
 {"mark": {"type": "text", "text": "\u03b7", "angle": 270, "fontSize": 20, "fontStyle": "italic"}, "encoding": {"x": {"datum": 85, "type": "quantitative", "scale": {"domain": [0,93], "nice": false, "zero": false}, "axis": null}, "y": {"datum": 141, "type": "quantitative", "scale": {"domain": [0,224], "nice": false, "zero": false, "reverse": true}, "axis": null}}},
 {"mark": "rule", "encoding": {"x": {"datum": 69.5, "type": "quantitative", "scale": {"domain": [0,93], "nice": false, "zero": false}, "axis": null}, "y": {"datum": 140, "type": "quantitative", "scale": {"domain": [0,224], "nice": false, "zero": false, "reverse": true}, "axis": null}, "y2": {"datum": 131.5}}},
 {"mark": {"type": "text", "text": "m", "angle": 270, "fontSize": 14, "fontStyle": "italic"}, "encoding": {"x": {"datum": 88.5, "type": "quantitative", "scale": {"domain": [0,93], "nice": false, "zero": false}, "axis": null}, "y": {"datum": 130.5, "type": "quantitative", "scale": {"domain": [0,224], "nice": false, "zero": false, "reverse": true}, "axis": null}}},
 {"mark": {"type": "text", "text": "= 50", "angle": 270, "fontSize": 20}, "encoding": {"x": {"datum": 85, "type": "quantitative", "scale": {"domain": [0,93], "nice": false, "zero": false}, "axis": null}, "y": {"datum": 113, "type": "quantitative", "scale": {"domain": [0,224], "nice": false, "zero": false, "reverse": true}, "axis": null}}}
]},
{"width": 331, "height": 224, "layer": [
 {"data": {"name": "shapes"}, "transform": [{"filter": "datum.eta == 50 && datum.kc == 0 && datum.curve == 0"}], "mark": {"type": "line", "interpolate": "cardinal-closed", "color": "black", "strokeWidth": 1.6}, "encoding": {"x": {"field": "x", "type": "quantitative", "scale": {"domain": [-165.8,165.2], "nice": false, "zero": false}, "axis": null}, "y": {"field": "y", "type": "quantitative", "scale": {"domain": [-112,112], "nice": false, "zero": false}, "axis": null}, "order": {"field": "i", "type": "quantitative"}}},
 {"mark": "rule", "encoding": {"x": {"datum": -165.8, "type": "quantitative", "scale": {"domain": [-165.8,165.2], "nice": false, "zero": false}, "axis": null}, "x2": {"datum": 165.2}, "y": {"datum": 111.5, "type": "quantitative", "scale": {"domain": [-112,112], "nice": false, "zero": false}, "axis": null}}},
 {"mark": "rule", "encoding": {"x": {"datum": -165.3, "type": "quantitative", "scale": {"domain": [-165.8,165.2], "nice": false, "zero": false}, "axis": null}, "y": {"datum": 112, "type": "quantitative", "scale": {"domain": [-112,112], "nice": false, "zero": false}, "axis": null}, "y2": {"datum": -111.5}}}
]},
{"width": 333, "height": 224, "layer": [
 {"data": {"name": "shapes"}, "transform": [{"filter": "datum.eta == 50 && datum.kc == 40 && datum.curve == 40"}], "mark": {"type": "line", "interpolate": "cardinal-closed", "color": "black", "strokeWidth": 1.6}, "encoding": {"x": {"field": "x", "type": "quantitative", "scale": {"domain": [-166.8,166.2], "nice": false, "zero": false}, "axis": null}, "y": {"field": "y", "type": "quantitative", "scale": {"domain": [-112,112], "nice": false, "zero": false}, "axis": null}, "order": {"field": "i", "type": "quantitative"}}},
 {"mark": "rule", "encoding": {"x": {"datum": -166.8, "type": "quantitative", "scale": {"domain": [-166.8,166.2], "nice": false, "zero": false}, "axis": null}, "x2": {"datum": 166.2}, "y": {"datum": 111.5, "type": "quantitative", "scale": {"domain": [-112,112], "nice": false, "zero": false}, "axis": null}}},
 {"mark": "rule", "encoding": {"x": {"datum": -166.3, "type": "quantitative", "scale": {"domain": [-166.8,166.2], "nice": false, "zero": false}, "axis": null}, "y": {"datum": 112, "type": "quantitative", "scale": {"domain": [-112,112], "nice": false, "zero": false}, "axis": null}, "y2": {"datum": -111.5}}}
]},
{"width": 324, "height": 224, "layer": [
 {"data": {"name": "shapes"}, "transform": [{"filter": "datum.eta == 50 && datum.kc == 80 && datum.curve == 80"}], "mark": {"type": "line", "interpolate": "cardinal-closed", "color": "black", "strokeWidth": 1.6}, "encoding": {"x": {"field": "x", "type": "quantitative", "scale": {"domain": [-165,159], "nice": false, "zero": false}, "axis": null}, "y": {"field": "y", "type": "quantitative", "scale": {"domain": [-112,112], "nice": false, "zero": false}, "axis": null}, "order": {"field": "i", "type": "quantitative"}}},
 {"data": {"name": "shapes"}, "transform": [{"filter": "datum.eta == 50 && datum.kc == 80 && datum.curve == 0"}], "mark": {"type": "line", "interpolate": "cardinal-closed", "color": "#c41e59", "strokeWidth": 1.5}, "encoding": {"x": {"field": "x", "type": "quantitative", "scale": {"domain": [-165,159], "nice": false, "zero": false}, "axis": null}, "y": {"field": "y", "type": "quantitative", "scale": {"domain": [-112,112], "nice": false, "zero": false}, "axis": null}, "order": {"field": "i", "type": "quantitative"}}},
 {"mark": "rule", "encoding": {"x": {"datum": -165, "type": "quantitative", "scale": {"domain": [-165,159], "nice": false, "zero": false}, "axis": null}, "x2": {"datum": 158.5}, "y": {"datum": 111.5, "type": "quantitative", "scale": {"domain": [-112,112], "nice": false, "zero": false}, "axis": null}}},
 {"mark": "rule", "encoding": {"x": {"datum": -164.5, "type": "quantitative", "scale": {"domain": [-165,159], "nice": false, "zero": false}, "axis": null}, "y": {"datum": 112, "type": "quantitative", "scale": {"domain": [-112,112], "nice": false, "zero": false}, "axis": null}, "y2": {"datum": -111.5}}},
 {"mark": "rule", "encoding": {"x": {"datum": 61.5, "type": "quantitative", "scale": {"domain": [-165,159], "nice": false, "zero": false}, "axis": null}, "x2": {"datum": 158.5}, "y": {"datum": -79.5, "type": "quantitative", "scale": {"domain": [-112,112], "nice": false, "zero": false}, "axis": null}}},
 {"mark": "rule", "encoding": {"x": {"datum": 61.5, "type": "quantitative", "scale": {"domain": [-165,159], "nice": false, "zero": false}, "axis": null}, "y": {"datum": -79.5, "type": "quantitative", "scale": {"domain": [-112,112], "nice": false, "zero": false}, "axis": null}, "y2": {"datum": -111.5}}},
 {"mark": {"type": "rule", "color": "#c41e59", "strokeWidth": 1.6}, "encoding": {"x": {"datum": 69.7, "type": "quantitative", "scale": {"domain": [-165,159], "nice": false, "zero": false}, "axis": null}, "x2": {"datum": 88}, "y": {"datum": -94.3, "type": "quantitative", "scale": {"domain": [-112,112], "nice": false, "zero": false}, "axis": null}}},
 {"mark": {"type": "text", "text": "K", "fontSize": 19, "fontStyle": "italic"}, "encoding": {"x": {"datum": 88.7, "type": "quantitative", "scale": {"domain": [-165,159], "nice": false, "zero": false}, "axis": null}, "y": {"datum": -100.3, "type": "quantitative", "scale": {"domain": [-112,112], "nice": false, "zero": false}, "axis": null}}},
 {"mark": {"type": "text", "text": "c", "fontSize": 13, "fontStyle": "italic"}, "encoding": {"x": {"datum": 101.3, "type": "quantitative", "scale": {"domain": [-165,159], "nice": false, "zero": false}, "axis": null}, "y": {"datum": -103.8, "type": "quantitative", "scale": {"domain": [-112,112], "nice": false, "zero": false}, "axis": null}}},
 {"mark": {"type": "text", "text": "=\u00a0\u00a00", "fontSize": 19}, "encoding": {"x": {"datum": 124.7, "type": "quantitative", "scale": {"domain": [-165,159], "nice": false, "zero": false}, "axis": null}, "y": {"datum": -100.3, "type": "quantitative", "scale": {"domain": [-112,112], "nice": false, "zero": false}, "axis": null}}}
]}
]
}
